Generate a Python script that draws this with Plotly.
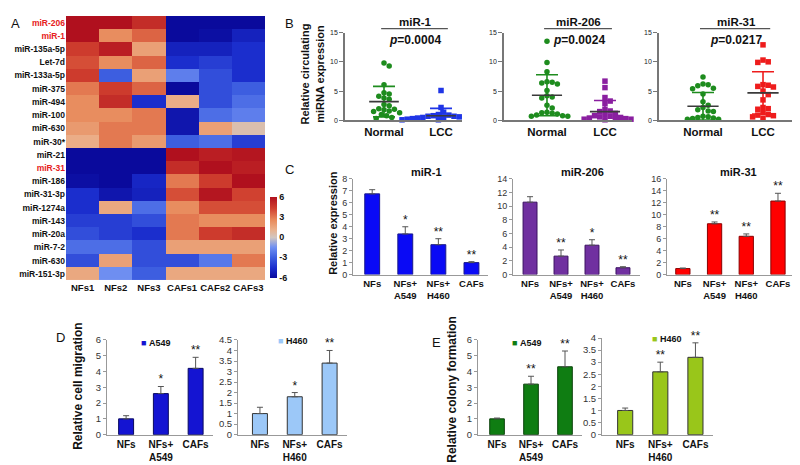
import numpy as np
import plotly.graph_objects as go

# The page body has an 8px margin, so the figure is sized to fit inside the window
OFF = 8
W, H = 800 - OFF, 465 - OFF
FONT = "Liberation Sans, Arial, sans-serif"


def fx(px):
    return (px - OFF) / W


def fy(py):
    return 1 - (py - OFF) / H


# ---------------- Panel A: heatmap data ----------------
hm_rows = ["miR-206", "miR-1", "miR-135a-5p", "Let-7d", "miR-133a-5p", "miR-375",
           "miR-494", "miR-100", "miR-630", "miR-30*", "miR-21", "miR-31", "miR-186",
           "miR-31-3p", "miR-1274a", "miR-143", "miR-20a", "miR-7-2", "miR-630",
           "miR-151-3p"]
hm_highlight = ["miR-206", "miR-1", "miR-31"]
hm_cols = ["NFs1", "NFs2", "NFs3", "CAFs1", "CAFs2", "CAFs3"]
hm_values = [
    [6.0, 6.0, 5.0, -6.0, -6.0, -6.0],
    [6.0, 2.5, 3.5, -6.0, -5.8, -5.0],
    [4.5, 5.5, 1.8, -5.0, -5.0, -4.5],
    [4.0, 2.5, 3.5, -4.5, -4.0, -4.5],
    [4.5, -3.0, 1.8, -2.0, -3.5, -4.5],
    [3.0, 4.5, 3.5, -6.0, -3.5, -3.0],
    [2.5, 5.0, -4.5, 1.3, -3.5, -2.5],
    [2.5, 2.5, 3.0, -5.5, -2.5, -2.0],
    [2.0, 3.0, 3.0, -5.5, 1.8, 0.4],
    [1.3, 3.0, 2.0, -3.0, -2.5, -4.0],
    [-6.0, -6.0, -6.0, 6.0, 5.5, 5.8],
    [-6.0, -6.0, -6.0, 5.0, 6.0, 5.5],
    [-5.8, -6.0, -4.8, 3.0, 4.5, 6.0],
    [-4.5, -5.5, -5.0, 4.0, 5.8, 4.3],
    [-4.5, 1.5, -2.5, 2.5, 4.0, 4.0],
    [-4.0, -4.0, -3.5, 3.0, 2.5, 2.5],
    [-3.5, -4.0, -4.5, 3.0, 4.5, 5.0],
    [-2.5, -2.5, -3.5, 1.8, 1.8, 1.8],
    [-3.5, 1.8, -3.5, -3.5, -2.2, 3.0],
    [1.5, -1.5, -3.0, 1.5, 1.5, 1.5],
]
hm_ticks = [-6, -3, 0, 3, 6]
hm_ticklabels = ["-6", "-3", "0", "3", "6"]

# ---------------- Panel B: circulating miRNA ----------------
b_titles = ["miR-1", "miR-206", "miR-31"]
b_pvalues = ["0.0004", "0.0024", "0.0217"]
b_groups = ["Normal", "LCC"]
b_normal = [
    [9.8, 9.3, 6.1, 4.7, 4.5, 4.1, 3.8, 3.6, 2.7, 2.5, 2.0, 1.9, 1.8, 1.6, 1.5, 1.3, 1.0, 0.8, 0.5, 0.3],
    [13.5, 9.9, 8.3, 6.6, 6.5, 6.2, 6.4, 5.1, 4.2, 4.0, 3.8, 2.6, 2.1, 1.4, 1.3, 1.2, 1.1, 0.9, 0.8, 0.7, 0.7],
    [7.4, 6.1, 5.9, 6.2, 5.5, 5.4, 4.5, 3.2, 2.6, 2.2, 1.8, 1.6, 1.5, 0.7, 0.6, 0.5, 0.4, 0.3, 0.2, 0.2],
]
b_lcc = [
    [5.1, 2.2, 1.4, 1.0, 0.9, 0.8, 0.7, 0.7, 0.6, 0.5, 0.5, 0.4, 0.4, 0.3, 0.3, 0.2, 0.2, 0.1, 0.1, 0.1],
    [6.7, 5.6, 3.9, 3.3, 2.9, 1.9, 1.6, 1.5, 1.2, 1.0, 0.8, 0.7, 0.6, 0.5, 0.4, 0.3, 0.3, 0.2, 0.2, 0.1],
    [12.9, 10.3, 10.0, 9.9, 6.1, 6.0, 5.8, 5.7, 5.0, 4.4, 3.5, 2.2, 2.0, 1.9, 1.3, 1.0, 0.9, 0.8, 0.6, 0.3],
]
b_normal_mean = [3.2, 4.3, 2.4]
b_normal_sd = [2.6, 3.5, 2.35]
b_lcc_mean = [0.8, 1.5, 4.7]
b_lcc_sd = [1.25, 1.9, 3.6]
b_normal_color = "#1e8c1e"
b_lcc_colors = ["#1f35e6", "#8a1fa0", "#ee1c1c"]
b_yticks = [0, 5, 10, 15]

# ---------------- Panel C: relative expression ----------------
c_categories = ["NFs", "NFs+<br>A549", "NFs+<br>H460", "CAFs"]
c_titles = ["miR-1", "miR-206", "miR-31"]
c_values = [[6.75, 3.4, 2.5, 1.0], [10.6, 2.7, 4.3, 1.0], [1.0, 8.5, 6.4, 12.3]]
c_errors = [[0.35, 0.6, 0.5, 0.08], [0.8, 0.9, 0.8, 0.15], [0.1, 0.3, 0.4, 1.3]]
c_stars = [["", "*", "**", "**"], ["", "**", "*", "**"], ["", "**", "**", "**"]]
c_colors = ["#0a0af5", "#7030a0", "#ff0000"]
c_lines = ["#1a1a8a", "#3a1060", "#8a0000"]
c_ymax = [8, 14, 16]
c_dtick = [1, 2, 2]

# ---------------- Panels D & E ----------------
de_categories_a549 = ["NFs", "NFs+<br>A549", "CAFs"]
de_categories_h460 = ["NFs", "NFs+<br>H460", "CAFs"]
d_a549 = [1.0, 2.6, 4.2]
d_a549_err = [0.2, 0.45, 0.7]
d_a549_stars = ["", "*", "**"]
d_h460 = [1.0, 1.8, 3.4]
d_h460_err = [0.3, 0.2, 0.6]
d_h460_stars = ["", "*", "**"]
e_a549 = [1.0, 3.2, 4.3]
e_a549_err = [0.05, 0.5, 1.0]
e_a549_stars = ["", "**", "**"]
e_h460 = [1.0, 2.6, 3.2]
e_h460_err = [0.1, 0.4, 0.6]
e_h460_stars = ["", "**", "**"]


def swarm(vals, px_per_x, px_per_y, d=5.2):
    vals = np.asarray(vals, float)
    order = np.argsort(-vals)
    placed = []
    off = np.zeros(len(vals))
    cands = [0.0]
    for j in range(1, 60):
        cands += [j * d * 0.5, -j * d * 0.5]
    for i in order:
        yp = vals[i] * px_per_y
        chosen = 0.0
        for c in cands:
            if all((c - a) ** 2 + (yp - b) ** 2 >= d * d for a, b in placed):
                chosen = c
                break
        placed.append((chosen, yp))
        off[i] = chosen / px_per_x
    return off


def ann(text, x, y, xref="paper", yref="paper", size=11, angle=0, xanchor="center",
        yanchor="middle", align="center"):
    return dict(text=text, x=x, y=y, xref=xref, yref=yref, showarrow=False,
                textangle=angle, xanchor=xanchor, yanchor=yanchor, align=align,
                font=dict(size=size, family=FONT, color="#111"))


fig = go.Figure()
layout = dict(width=W, height=H, margin=dict(l=0, r=0, t=0, b=0),
              paper_bgcolor="white", plot_bgcolor="white",
              font=dict(family=FONT, color="#111"), showlegend=False)
annotations = []
shapes = []

# ---------- A ----------
colorscale = [[0.0, "#0a0a9c"], [0.12, "#1a2ccc"], [0.25, "#3d5ee0"], [0.38, "#7090f2"],
              [0.5, "#d2c6c0"], [0.6, "#ebb08a"], [0.72, "#e8895a"], [0.86, "#d0402f"],
              [1.0, "#b0101e"]]
fig.add_trace(go.Heatmap(
    z=hm_values, x=list(range(len(hm_cols))), y=list(range(len(hm_rows))),
    colorscale=colorscale, zmin=-6, zmax=6, xaxis="x", yaxis="y",
    colorbar=dict(x=fx(270), xanchor="left", y=fy(278), yanchor="bottom",
                  len=83 / H, lenmode="fraction", thickness=7, outlinewidth=0,
                  xpad=0, ypad=0, tickvals=hm_ticks, ticktext=hm_ticklabels, ticks="",
                  tickfont=dict(size=9, family=FONT, weight="bold", color="#111"))))
ticktext_rows = [f"<span style='color:#e62020'>{r}</span>" if r in hm_highlight else r
                 for r in hm_rows]
layout["xaxis"] = dict(domain=[fx(66), fx(265)], anchor="y", range=[-0.5, 5.5],
                       tickvals=list(range(6)), ticktext=hm_cols, ticks="", showline=False,
                       showgrid=False, zeroline=False,
                       tickfont=dict(size=9.5, weight="bold", family=FONT, color="#111"))
layout["yaxis"] = dict(domain=[fy(281), fy(10)], anchor="x", range=[19.5, -0.5],
                       tickvals=list(range(len(hm_rows))), ticktext=ticktext_rows, ticks="",
                       showline=False, showgrid=False, zeroline=False,
                       tickfont=dict(size=8.5, weight="bold", family=FONT, color="#111"))

# ---------- B ----------
b_xdom = [[345, 462], [504, 632], [659, 795]]
b_xrng = [[-0.684, 1.368], [-0.741, 1.466], [-0.733, 1.533]]
b_ydom = [27, 117]
for k in range(3):
    n = k + 2
    xa, ya = f"x{n}", f"y{n}"
    pxx = (b_xdom[k][1] - b_xdom[k][0]) / (b_xrng[k][1] - b_xrng[k][0])
    pxy = (b_ydom[1] - b_ydom[0]) / 15.0
    for gi, (vals, col, sym) in enumerate([(b_normal[k], b_normal_color, "circle"),
                                           (b_lcc[k], b_lcc_colors[k], "square")]):
        offs = swarm(vals, pxx, pxy)
        fig.add_trace(go.Scatter(x=gi + offs, y=vals, mode="markers", xaxis=xa, yaxis=ya,
                                 cliponaxis=False,
                                 marker=dict(symbol=sym, size=5.5, color=col, line=dict(width=0))))
    means = [b_normal_mean[k], b_lcc_mean[k]]
    sds = [b_normal_sd[k], b_lcc_sd[k]]
    cols = [b_normal_color, b_lcc_colors[k]]
    for gi in range(2):
        fig.add_trace(go.Scatter(x=[gi], y=[means[gi]], mode="markers", xaxis=xa, yaxis=ya,
                                 marker=dict(size=1, opacity=0), cliponaxis=True,
                                 error_y=dict(type="data", array=[sds[gi]], color=cols[gi],
                                              thickness=1.6, width=11)))
        fig.add_trace(go.Scatter(x=[gi - 0.26, gi + 0.26], y=[means[gi], means[gi]],
                                 mode="lines", xaxis=xa, yaxis=ya,
                                 line=dict(color="#3a3a3a", width=1.6)))
    layout[f"xaxis{n}"] = dict(domain=[fx(b_xdom[k][0]), fx(b_xdom[k][1])], anchor=ya,
                               range=b_xrng[k], tickvals=[0, 1], ticktext=b_groups,
                               showline=True, linecolor="#777", linewidth=1.6, ticks="",
                               showgrid=False, zeroline=False,
                               tickfont=dict(size=11.5, weight="bold", family=FONT, color="#111"))
    layout[f"yaxis{n}"] = dict(domain=[fy(b_ydom[1]), fy(b_ydom[0])], anchor=xa, range=[0, 15],
                               tickvals=b_yticks, showline=True, linecolor="#777", linewidth=1.6,
                               ticks="outside", ticklen=4, tickcolor="#777", tickwidth=1.3,
                               showgrid=False, zeroline=False,
                               tickfont=dict(size=7, family=FONT, color="#222"))
    annotations.append(ann(f"<b>{b_titles[k]}</b>", 0.55, fy(8), xref=xa, size=11.5,
                           yanchor="top"))
    shapes.append(dict(type="line", xref=xa, yref="paper", x0=-0.05, x1=1.12, y0=fy(23),
                       y1=fy(23), line=dict(color="#555", width=1.3)))
    annotations.append(ann(f"<b><i>p</i>=" + b_pvalues[k] + "</b>", 0.55, fy(35), xref=xa,
                           size=12))

annotations.append(ann("<b>Relative circulating<br>miRNA expression</b>", fx(312), fy(70),
                       size=11, angle=-90))

# ---------- C ----------
c_xdom = [[353, 488], [513, 640], [667, 797]]
c_xrng = [[-0.58, 3.5], [-0.55, 3.55], [-0.5, 3.6]]
c_ydom = [177, 275]
for k in range(3):
    n = k + 5
    xa, ya = f"x{n}", f"y{n}"
    cats = list(range(len(c_categories)))
    fig.add_trace(go.Bar(x=cats, y=c_values[k], xaxis=xa, yaxis=ya, width=0.45,
                         marker=dict(color=c_colors[k], line=dict(color=c_lines[k], width=1)),
                         error_y=dict(type="data", symmetric=False, array=c_errors[k],
                                      arrayminus=[0] * 4, color="#555", thickness=1, width=3)))
    tops = [v + e for v, e in zip(c_values[k], c_errors[k])]
    fig.add_trace(go.Scatter(x=cats, y=tops, text=c_stars[k], mode="text", xaxis=xa, yaxis=ya,
                             textposition="top center", cliponaxis=False,
                             textfont=dict(size=12, color="#111", family=FONT)))
    layout[f"xaxis{n}"] = dict(domain=[fx(c_xdom[k][0]), fx(c_xdom[k][1])], anchor=ya,
                               range=c_xrng[k], tickvals=cats, ticktext=c_categories,
                               showline=True, linecolor="#999", linewidth=1, ticks="",
                               showgrid=False, zeroline=False,
                               tickfont=dict(size=9.5, weight="bold", family=FONT, color="#111"))
    layout[f"yaxis{n}"] = dict(domain=[fy(c_ydom[1]), fy(c_ydom[0])], anchor=xa,
                               range=[0, c_ymax[k]], dtick=c_dtick[k], showline=True,
                               linecolor="#999", linewidth=1, ticks="outside", ticklen=3,
                               tickcolor="#999", showgrid=False, zeroline=False,
                               tickfont=dict(size=9, family=FONT, color="#333"))
    annotations.append(ann(f"<b>{c_titles[k]}</b>", fx((c_xdom[k][0] + c_xdom[k][1]) / 2 + 6),
                           fy(170), size=11))
annotations.append(ann("<b>Relative expression</b>", fx(333), fy(222), size=11, angle=-90))

# ---------- D & E ----------
de_specs = [
    (8, [107, 213], [342, 439], [-0.55, 2.5], 6, 1, de_categories_a549, d_a549, d_a549_err,
     d_a549_stars, "#1414d2", "#0a0a60", "A549", [139, 345]),
    (9, [238, 347], [342, 439], [-0.63, 2.5], 4.5, 0.5, de_categories_h460, d_h460, d_h460_err,
     d_h460_stars, "#9cc8f8", "#333333", "H460", [276, 343]),
    (10, [478, 582], [342, 439], [-0.56, 2.5], 6, 1, de_categories_a549, e_a549, e_a549_err,
     e_a549_stars, "#0f7d12", "#0a400a", "A549", [510, 345]),
    (11, [602, 713], [340, 439], [-0.66, 2.5], 4, 0.5, de_categories_h460, e_h460, e_h460_err,
     e_h460_stars, "#99c61a", "#333333", "H460", [650, 341]),
]
for (n, xd, yd, xr, ymax, dt, cats_lbl, vals, errs, stars, col, lcol, leg, legpos) in de_specs:
    xa, ya = f"x{n}", f"y{n}"
    cats = list(range(len(cats_lbl)))
    fig.add_trace(go.Bar(x=cats, y=vals, xaxis=xa, yaxis=ya, width=0.43,
                         marker=dict(color=col, line=dict(color=lcol, width=1)),
                         error_y=dict(type="data", symmetric=False, array=errs,
                                      arrayminus=[0] * len(vals), color="#555", thickness=1,
                                      width=3)))
    tops = [v + e for v, e in zip(vals, errs)]
    fig.add_trace(go.Scatter(x=cats, y=tops, text=stars, mode="text", xaxis=xa, yaxis=ya,
                             textposition="top center", cliponaxis=False,
                             textfont=dict(size=12, color="#111", family=FONT)))
    layout[f"xaxis{n}"] = dict(domain=[fx(xd[0]), fx(xd[1])], anchor=ya, range=xr,
                               tickvals=cats, ticktext=cats_lbl, showline=True, linecolor="#999",
                               linewidth=1, ticks="", showgrid=False, zeroline=False,
                               tickfont=dict(size=10, weight="bold", family=FONT, color="#111"))
    layout[f"yaxis{n}"] = dict(domain=[fy(yd[1]), fy(yd[0])], anchor=xa, range=[0, ymax],
                               dtick=dt, showline=True, linecolor="#999", linewidth=1,
                               ticks="outside", ticklen=3, tickcolor="#999", showgrid=False,
                               zeroline=False, tickfont=dict(size=9.5, family=FONT, color="#333"))
    annotations.append(ann(f"<span style='color:{col}'>■</span> <b>{leg}</b>",
                           fx(legpos[0]), fy(legpos[1]), size=9, xanchor="left"))

annotations.append(ann("<b>Relative cell migration</b>", fx(78), fy(390), size=12, angle=-90))
annotations.append(ann("<b>Relative colony formation</b>", fx(452), fy(392), size=12, angle=-90))

# panel letters
for lbl, px, py in [("A", 9, 8), ("B", 283, 8), ("C", 283, 158), ("D", 54, 330), ("E", 430, 335)]:
    annotations.append(ann(lbl, fx(px), fy(py), size=13, xanchor="left", yanchor="top"))

layout["annotations"] = annotations
layout["shapes"] = shapes
fig.update_layout(**layout)
fig.write_html("out.html")
